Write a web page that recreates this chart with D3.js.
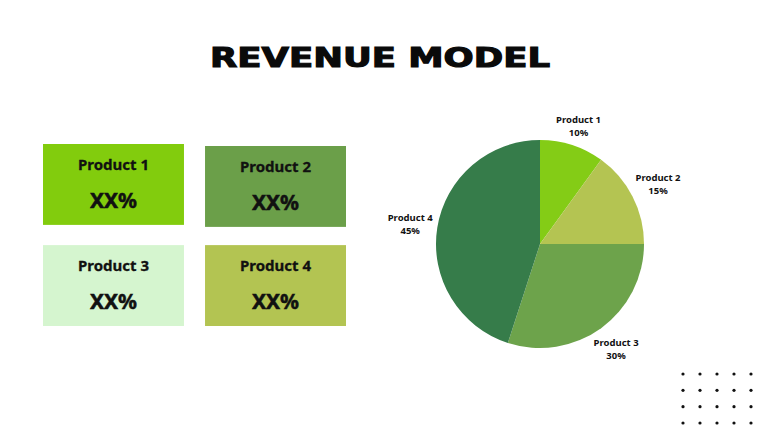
<!DOCTYPE html>
<html>
<head>
<meta charset="utf-8">
<script src="https://cdn.jsdelivr.net/npm/d3@7"></script>
<style>
  body { margin: 0; background: #fff; }
  svg { display: block; }
</style>
</head>
<body>
<div class="AllMap"></div>
<script>
// 数据
const products = ["Product 1", "Product 2", "Product 3", "Product 4"];
const shares = [10, 15, 30, 45];
const boxValues = ["XX%", "XX%", "XX%", "XX%"];
const boxColors = ["#82cc0d", "#6b9f49", "#d5f5cf", "#b3c452"];
const pieColors = ["#84cc16", "#b4c452", "#6da34b", "#367c4a"];

const width = 760, height = 425;

const svg = d3.select(".AllMap")
  .append("svg")
  .attr("width", width)
  .attr("height", height);

// 标题
svg.append("text")
  .attr("x", 380)
  .attr("y", 67)
  .attr("text-anchor", "middle")
  .attr("textLength", 340)
  .attr("lengthAdjust", "spacingAndGlyphs")
  .style("font-family", "DejaVu Sans")
  .style("font-weight", 700)
  .style("font-size", "26px")
  .style("fill", "#0a0a0a")
  .style("stroke", "#0a0a0a")
  .style("stroke-width", 1.1)
  .text("REVENUE MODEL");

// 左侧方块
const col = d3.scaleBand().domain([0, 1]).range([43, 346]).paddingInner(0.13);
const row = d3.scaleBand().domain([0, 1]).range([144, 326]).paddingInner(0.2);

const boxes = svg.selectAll("g.box")
  .data(products)
  .enter()
  .append("g")
  .attr("class", "box")
  .attr("transform", (d, i) => "translate(" + col(i % 2) + "," + (row(Math.floor(i / 2)) + (i === 1 ? 2 : 0)) + ")");

boxes.append("rect")
  .attr("width", col.bandwidth())
  .attr("height", row.bandwidth())
  .attr("fill", (d, i) => boxColors[i]);

boxes.append("text")
  .attr("x", col.bandwidth() / 2)
  .attr("y", 26)
  .attr("text-anchor", "middle")
  .style("font-family", "Noto Sans")
  .style("font-weight", 700)
  .style("font-size", "15px")
  .style("fill", "#111")
  .style("stroke", "#111")
  .style("stroke-width", 0.3)
  .text(d => d);

boxes.append("text")
  .attr("x", col.bandwidth() / 2)
  .attr("y", 64)
  .attr("text-anchor", "middle")
  .style("font-family", "Noto Sans")
  .style("font-weight", 700)
  .style("font-size", "21px")
  .style("fill", "#111")
  .style("stroke", "#111")
  .style("stroke-width", 0.5)
  .text((d, i) => boxValues[i]);

// 饼图
const cx = 540, cy = 244, r = 104;
const pie = d3.pie().sort(null).value(d => d);
const arc = d3.arc().innerRadius(0).outerRadius(r);

// 标签位置：按文字框大小向外推
function labelPos(d) {
  const a = (d.startAngle + d.endAngle) / 2;
  const rr = 107 + Math.abs(Math.cos(a)) * 11 + Math.abs(Math.sin(a)) * 23;
  return [Math.sin(a) * rr, -Math.cos(a) * rr];
}

const g = svg.append("g").attr("transform", "translate(" + cx + "," + cy + ")");

const slices = g.selectAll("g.slice")
  .data(pie(shares))
  .enter()
  .append("g")
  .attr("class", "slice");

slices.append("path")
  .attr("d", arc)
  .attr("fill", (d, i) => pieColors[i]);

const labels = slices.append("g")
  .attr("transform", d => "translate(" + labelPos(d) + ")")
  .style("font-family", "Noto Sans")
  .style("font-weight", 700)
  .style("font-size", "9.5px")
  .style("fill", "#111");

labels.append("text")
  .attr("y", -2.5)
  .attr("text-anchor", "middle")
  .text((d, i) => products[i]);

labels.append("text")
  .attr("y", 10.5)
  .attr("text-anchor", "middle")
  .text(d => d.data + "%");

// 点阵装饰
const dots = [];
for (let j = 0; j < 4; j++) {
  for (let k = 0; k < 5; k++) dots.push([k, j]);
}
const dx = d3.scaleLinear().domain([0, 4]).range([683, 751]);
const dy = d3.scaleLinear().domain([0, 3]).range([374, 423]);

svg.selectAll("circle.dot")
  .data(dots)
  .enter()
  .append("circle")
  .attr("class", "dot")
  .attr("cx", d => dx(d[0]))
  .attr("cy", d => dy(d[1]))
  .attr("r", 1.6)
  .attr("fill", "#111");
</script>
</body>
</html>
